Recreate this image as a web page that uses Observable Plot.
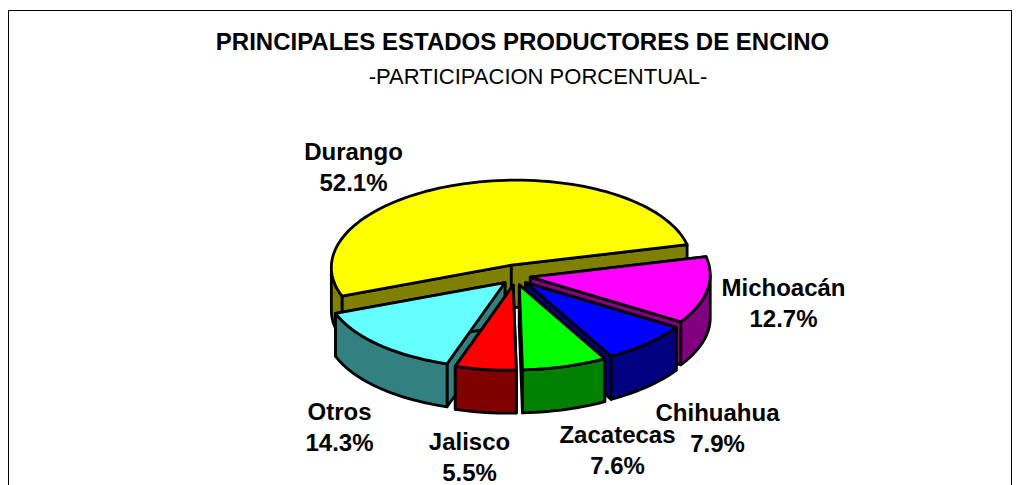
<!DOCTYPE html>
<html><head><meta charset="utf-8">
<script src="https://cdn.jsdelivr.net/npm/d3@7"></script>
<script src="https://cdn.jsdelivr.net/npm/@observablehq/plot@0.6"></script>
<style>
html,body{margin:0;padding:0;background:#fff;overflow:hidden}
body{width:1020px;height:485px;position:relative;font-family:"Liberation Sans",Arial,sans-serif;color:#000}
#frame{position:absolute;left:8px;top:10px;width:1004px;border:1px solid #000;box-sizing:border-box;border-bottom:none;height:475px}
.t{position:absolute;white-space:nowrap;line-height:24px;transform:translateX(-50%)}
#chart{position:absolute;left:0;top:0}
</style></head><body>
<div id="chart"></div>
<div id="frame"></div>
<div class="t" style="left:522.5px;top:30px;font-weight:bold;font-size:24px">PRINCIPALES ESTADOS PRODUCTORES DE ENCINO</div>
<div class="t" style="left:538px;top:65px;font-size:22px">-PARTICIPACION PORCENTUAL-</div>
<script>
const states = ["Durango","Michoacán","Chihuahua","Zacatecas","Jalisco","Otros"];
const shares = [52.1,12.7,7.9,7.6,5.5,14.3];
const topColors = ["#ffff00","#ff00ff","#0000ff","#00ff00","#ff0000","#66ffff"];
const sideColors = ["#808000","#800080","#000080","#008000","#800000","#338080"];

// Pie geometry, in pie units (radius = 1)
const width = 1020, height = 485;
const cx = 515, cy = 275, rx = 180, ry = 85;
const startAngle = 250.2, depth = 43/ry, explodeX = 15/rx, explodeBack = 10.8/ry, explodeFront = 9.75/ry, tilt = 0.026;
const paintOrder = ["Durango","Michoacán","Otros","Chihuahua","Jalisco","Zacatecas"];
const labelAnchors = {Durango:[353,165],"Michoacán":[783,301],Chihuahua:[717,426],Zacatecas:[617,448],Jalisco:[469,455],Otros:[339,425]};

const rad = d => d*Math.PI/180;
const total = d3.sum(shares);
let acc = startAngle;
const slices = states.map((s,i)=>{
  const a0 = acc, a1 = acc + shares[i]/total*360; acc = a1;
  const m = rad((a0+a1)/2);
  return {s,i,a0,a1,ox:explodeX*Math.sin(m),oy:(Math.cos(m)>0?explodeBack:explodeFront)*Math.cos(m)};
});
const rim = (sl,a,z=0)=>{const x=sl.ox+Math.sin(rad(a));return {x,y:sl.oy+Math.cos(rad(a))-z+tilt*x};};
const apex = (sl,z=0)=>({x:sl.ox,y:sl.oy-z+tilt*sl.ox});
const arc = (a0,a1)=>{const n=Math.max(1,Math.ceil((a1-a0)/2));return d3.range(n+1).map(k=>a0+(a1-a0)*k/n);};

const faces=[];
for(const name of paintOrder){
  const sl = slices.find(d=>d.s===name);
  const side = sideColors[sl.i], top = topColors[sl.i];
  for(const a of [sl.a0,sl.a1]) faces.push({fill:side,pts:[apex(sl),rim(sl,a),rim(sl,a,depth),apex(sl,depth)]});
  for(const [lo,hi] of [[90,270],[450,630]]){
    const b0=Math.max(lo,sl.a0), b1=Math.min(hi,sl.a1);
    if(b1>b0){const as=arc(b0,b1);faces.push({fill:side,pts:[...as.map(a=>rim(sl,a)),...as.slice().reverse().map(a=>rim(sl,a,depth))]});}
  }
  faces.push({fill:top,pts:[apex(sl),...arc(sl.a0,sl.a1).map(a=>rim(sl,a))]});
}
const labels = states.map((s,i)=>({text:`${s}\n${shares[i].toFixed(1)}%`,x:(labelAnchors[s][0]-cx)/rx,y:(cy-labelAnchors[s][1])/ry}));

const chart = Plot.plot({
  width,height,margin:0,
  style:{background:"transparent",overflow:"visible"},
  x:{axis:null,domain:[-cx/rx,(width-cx)/rx],range:[0,width]},
  y:{axis:null,domain:[(cy-height)/ry,cy/ry],range:[height,0]},
  marks:[
    ...faces.map(f=>Plot.line(f.pts,{x:"x",y:"y",fill:f.fill,stroke:"#000",strokeWidth:2.8,strokeLinejoin:"round",curve:"linear-closed"})),
    Plot.text(labels,{x:"x",y:"y",text:"text",fontSize:24,fontWeight:"bold",lineHeight:1.3,lineAnchor:"middle",textAnchor:"middle",fill:"#000",fontFamily:"Liberation Sans"})
  ]
});
document.getElementById("chart").appendChild(chart);
</script></body></html>
